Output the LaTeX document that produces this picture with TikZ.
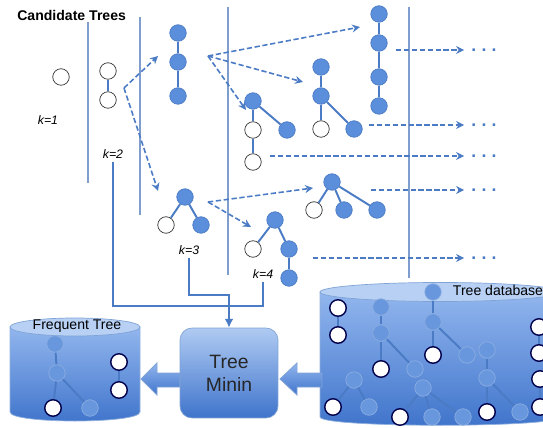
\documentclass[tikz,border=0pt]{standalone}
\usepackage{fontspec}
\setmainfont{Liberation Sans}
\usetikzlibrary{arrows.meta}
\definecolor{treeblue}{HTML}{5B8EDB}
\definecolor{edgeblue}{HTML}{4A7BC4}
\definecolor{rulecol}{HTML}{7F9ECE}
\definecolor{cyltop}{HTML}{92B6EE}
\definecolor{lidblue}{HTML}{B7D0F4}
\definecolor{cylbot}{HTML}{3F74CB}
\newcommand{\moredots}{.\hspace{3pt}.\hspace{3pt}.}

\begin{document}
\begin{tikzpicture}[x=0.02cm, y=-0.02cm,
    filled/.style ={circle, draw=edgeblue, fill=treeblue, minimum size=0.33cm, inner sep=0pt},
    hollow/.style ={circle, draw=black!80, fill=white, thin, minimum size=0.33cm, inner sep=0pt},
    faded/.style ={filled, fill=treeblue!92!white, draw=lidblue!60!edgeblue},
    dbhollow/.style ={hollow, draw=black!70!blue, line width=0.8pt},
    branch/.style ={draw=edgeblue, line width=1.1pt},
    growth/.style ={draw=edgeblue, line width=0.9pt, dash pattern=on 3pt off 1.5pt,
      -{Stealth[length=4.5pt,width=4.5pt]}},
    feed/.style ={draw=edgeblue, line width=1.1pt},
    sep/.style ={draw=rulecol, line width=0.7pt},
    klabel/.style ={font=\fontsize{7}{8}\selectfont\itshape, inner sep=2pt},
    moretext/.style ={text=edgeblue, font=\bfseries\fontsize{10}{10}\selectfont, inner sep=0pt},
    cyl/.style ={draw=edgeblue!60, top color=cyltop, bottom color=cylbot},
    cyllid/.style ={draw=edgeblue!70, fill=lidblue},
    blockarrow/.style ={draw=edgeblue!70, line width=0.5pt, top color=cyltop, bottom color=cylbot},
    minebox/.style ={rounded corners=0.24cm, draw=edgeblue!70, top color=lidblue!80!cyltop, bottom color=cylbot,
      minimum width=1.96cm, minimum height=1.8cm, align=center,
      font=\fontsize{11}{13}\selectfont, text=black!85}]
   \clip (0,0) rectangle (543,428);

   % separators between the levels
   \draw[sep] (88,22) -- (88,183);
   \draw[sep] (140,17) -- (140,215);
   \draw[sep] (228,7) -- (228,275);
   \draw[sep] (409,7) -- (409,278);

   \node[anchor=west, inner sep=0pt, font=\bfseries\fontsize{8}{9}\selectfont] (title) at (17,15) {Candidate Trees};

   % k=1 and k=2
   \node[hollow] (a1) at (61,77) {};
   \node[hollow] (b1) at (108,71) {};
   \node[hollow] (b2) at (108,100) {};
   \draw[branch] (b1) to (b2);
   \node[klabel] (k1) at (48,120) {k=1};
   \node[klabel] (k2) at (113,154) {k=2};

   % k=3
   \node[filled] (c1) at (178,33) {};
   \node[filled] (c2) at (178,62) {};
   \node[filled] (c3) at (178,96) {};
   \draw[branch] (c1) to (c2);
   \draw[branch] (c2) to (c3);
   \node[filled] (d1) at (185,197) {};
   \node[hollow] (d2) at (166,225) {};
   \node[filled] (d3) at (201,225) {};
   \draw[branch] (d1) to (d2);
   \draw[branch] (d1) to (d3);
   \node[klabel] (k3) at (189,250) {k=3};

   % k=4
   \node[filled] (e1) at (253,101) {};
   \node[hollow] (e2) at (253,130) {};
   \node[hollow] (e3) at (253,162) {};
   \node[filled] (e4) at (287,130) {};
   \draw[branch] (e1) to (e2);
   \draw[branch] (e2) to (e3);
   \draw[branch] (e1) to (e4);
   \node[filled] (f1) at (321,67) {};
   \node[filled] (f2) at (321,96) {};
   \node[hollow] (f3) at (321,129) {};
   \node[filled] (f4) at (354,129) {};
   \draw[branch] (f1) to (f2);
   \draw[branch] (f2) to (f3);
   \draw[branch] (f2) to (f4);
   \node[filled] (g1) at (379,14) {};
   \node[filled] (g2) at (379,43) {};
   \node[filled] (g3) at (379,77) {};
   \node[filled] (g4) at (379,106) {};
   \draw[branch] (g1) to (g2);
   \draw[branch] (g2) to (g3);
   \draw[branch] (g3) to (g4);
   \node[filled] (h1) at (332,182) {};
   \node[hollow] (h2) at (314,210) {};
   \node[filled] (h3) at (344,210) {};
   \node[filled] (h4) at (377,210) {};
   \draw[branch] (h1) to (h2);
   \draw[branch] (h1) to (h3);
   \draw[branch] (h1) to (h4);
   \node[filled] (i1) at (275,220) {};
   \node[hollow] (i2) at (253,249) {};
   \node[filled] (i3) at (289,249) {};
   \node[filled] (i4) at (289,278) {};
   \draw[branch] (i1) to (i2);
   \draw[branch] (i1) to (i3);
   \draw[branch] (i3) to (i4);
   \node[klabel] (k4) at (263,274) {k=4};

   % candidate generation
   \coordinate (p2) at (124,88);
   \coordinate (p3) at (208,56);
   \coordinate (p4) at (208,202);
   \coordinate (q1) at (158,56);
   \coordinate (q2) at (158,191);
   \coordinate (q3) at (360,27);
   \coordinate (q4) at (303,82);
   \coordinate (q5) at (246,110);
   \coordinate (q6) at (313,188);
   \coordinate (q7) at (251,227);
   \draw[growth] (p2) to (q1);
   \draw[growth] (p2) to (q2);
   \draw[growth] (p3) to (q3);
   \draw[growth] (p3) to (q4);
   \draw[growth] (p3) to (q5);
   \draw[growth] (p4) to (q6);
   \draw[growth] (p4) to (q7);

   % towards larger k
   \node[moretext] (m1) at (484,50) {\moredots};
   \node[moretext] (m2) at (484,125) {\moredots};
   \node[moretext] (m3) at (484,156) {\moredots};
   \node[moretext] (m4) at (484,190) {\moredots};
   \node[moretext] (m5) at (484,258) {\moredots};
   \coordinate (r1) at (396,50);
   \coordinate (r2) at (369,125);
   \coordinate (r3) at (270,156);
   \coordinate (r4) at (371,190);
   \coordinate (r5) at (313,258);
   \draw[growth, shorten >=4pt] (r1) to (m1);
   \draw[growth, shorten >=4pt] (r2) to (m2);
   \draw[growth, shorten >=4pt] (r3) to (m3);
   \draw[growth, shorten >=4pt] (r4) to (m4);
   \draw[growth, shorten >=4pt] (r5) to (m5);

   % frequent tree store
   \path[cyl] (10,327) -- (10,412) .. controls (10,424) and (140,424) .. (140,412) -- (140,327) -- cycle;
   \draw[cyllid] (75,327) ellipse [x radius=1.3cm, y radius=0.18cm];
   \node[font=\fontsize{8}{9}\selectfont, inner sep=0pt] (ftlabel) at (77,326) {Frequent Tree};
   \node[faded] (u1) at (55,344) {};
   \node[faded] (u2) at (57,373) {};
   \node[dbhollow] (u3) at (53,408) {};
   \node[faded] (u4) at (90,408) {};
   \node[dbhollow] (u5) at (119,362) {};
   \node[dbhollow] (u6) at (119,390) {};
   \draw[branch] (u1) to (u2);
   \draw[branch] (u2) to (u3);
   \draw[branch] (u2) to (u4);
   \draw[branch] (u5) to (u6);

   % tree database
   \path[cyl] (320,292) -- (320,417) .. controls (320,428) and (560,428) .. (560,417) -- (560,292) -- cycle;
   \draw[cyllid] (440,292) ellipse [x radius=2.4cm, y radius=0.19cm];
   \node[font=\fontsize{8}{9}\selectfont, inner sep=0pt] (dblabel) at (498,290) {Tree database};
   \node[dbhollow] (v1) at (338,308) {};
   \node[dbhollow] (v2) at (338,335) {};
   \draw[branch] (v1) to (v2);
   \node[faded] (w1) at (381,307) {};
   \node[faded] (w2) at (381,333) {};
   \node[dbhollow] (w3) at (381,369) {};
   \node[faded] (w4) at (415,369) {};
   \draw[branch] (w1) to (w2);
   \draw[branch] (w2) to (w3);
   \draw[branch] (w2) to (w4);
   \node[faded] (x1) at (433,292) {};
   \node[faded] (x2) at (433,322) {};
   \node[dbhollow] (x3) at (433,355) {};
   \node[faded] (x4) at (467,355) {};
   \draw[branch] (x1) to (x2);
   \draw[branch] (x2) to (x3);
   \draw[branch] (x2) to (x4);
   \node[faded] (y1) at (354,380) {};
   \node[dbhollow] (y2) at (333,407) {};
   \node[faded] (y3) at (369,407) {};
   \draw[branch] (y1) to (y2);
   \draw[branch] (y1) to (y3);
   \node[faded] (z1) at (423,388) {};
   \node[dbhollow] (z2) at (400,417) {};
   \node[faded] (z3) at (432,417) {};
   \node[faded] (z4) at (463,417) {};
   \draw[branch] (z1) to (z2);
   \draw[branch] (z1) to (z3);
   \draw[branch] (z1) to (z4);
   \node[faded] (o1) at (487,350) {};
   \node[faded] (o2) at (487,378) {};
   \node[dbhollow] (o3) at (487,412) {};
   \node[faded] (o4) at (520,412) {};
   \draw[branch] (o1) to (o2);
   \draw[branch] (o2) to (o3);
   \draw[branch] (o2) to (o4);
   \node[dbhollow] (n1) at (539,327) {};
   \node[dbhollow] (n2) at (539,353) {};
   \node[dbhollow] (n3) at (540,379) {};
   \node[dbhollow] (n4) at (540,407) {};
   \draw[branch] (n1) to (n2);
   \draw[branch] (n3) to (n4);

   % mining step
   \path[blockarrow] (180,373) -- (157,373) -- (157,363) -- (141,379) -- (157,395) -- (157,387) -- (180,387) -- cycle;
   \path[blockarrow] (322,373) -- (297,373) -- (297,363) -- (280,379) -- (297,395) -- (297,387) -- (322,387) -- cycle;
   \node[minebox] (tm) at (229,373) {Tree\\Minin};
   \coordinate (bus) at (229,306);
   \coordinate (kt) at (229,295);
   \draw[feed] (k2.south) |- (bus) -| (k4.south);
   \draw[feed, -{Latex[length=5pt,width=5pt]}] (k3.south) |- (kt) -- (tm.north);
 \end{tikzpicture}
\end{document}
